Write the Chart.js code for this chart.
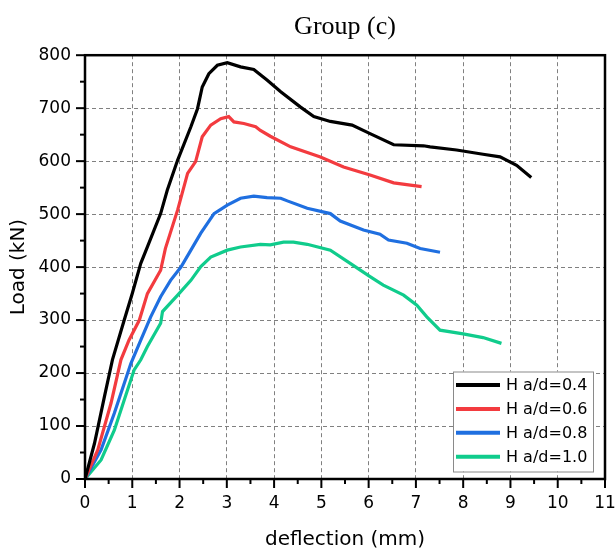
<!DOCTYPE html>
<html>
<head>
<meta charset="utf-8">
<script src="https://cdn.jsdelivr.net/npm/chart.js@4.4.1/dist/chart.umd.min.js"></script>
<style>
  html, body { margin: 0; padding: 0; background: #fff; }
</style>
</head>
<body>
<canvas id="grafico" width="616" height="554"></canvas>
<script>
// valores (deflexao em mm, carga em kN)
const rotulos = ["H a/d=0.4", "H a/d=0.6", "H a/d=0.8", "H a/d=1.0"];
const cores = ["#000000", "#F33B3F", "#1F6FE0", "#10CC8C"];

const deflexao04 = [0, 0.2, 0.41, 0.58, 0.83, 1.0, 1.18, 1.32, 1.6, 1.74, 1.96, 2.24, 2.38, 2.48, 2.62, 2.8, 3.01, 3.29, 3.57, 3.85, 4.14, 4.56, 4.84, 5.19, 5.65, 6.03, 6.53, 7.16, 7.3, 7.86, 8.42, 8.78, 9.13, 9.44];
const carga04 = [0, 67, 155, 225, 300, 350, 407, 438, 501, 545, 602, 665, 699, 740, 765, 781, 786, 778, 773, 753, 731, 702, 684, 675, 668, 652, 631, 629, 627, 621, 613, 608, 592, 569];

const deflexao06 = [0, 0.27, 0.55, 0.76, 0.93, 1.15, 1.32, 1.6, 1.7, 1.96, 2.17, 2.34, 2.48, 2.66, 2.87, 3.04, 3.15, 3.36, 3.61, 3.71, 3.92, 4.35, 4.98, 5.47, 6.03, 6.53, 7.12];
const carga06 = [0, 55, 143, 225, 262, 300, 350, 394, 435, 508, 577, 599, 646, 668, 680, 684, 674, 671, 665, 658, 647, 627, 608, 589, 574, 559, 552];

const deflexao08 = [0, 0.34, 0.62, 0.97, 1.18, 1.39, 1.6, 1.81, 2.03, 2.24, 2.45, 2.73, 3.01, 3.29, 3.57, 3.85, 4.14, 4.28, 4.7, 5.19, 5.4, 5.89, 6.24, 6.42, 6.81, 7.09, 7.51];
const carga08 = [0, 55, 124, 218, 262, 306, 344, 375, 400, 432, 464, 501, 517, 530, 534, 531, 530, 525, 511, 501, 487, 470, 462, 451, 445, 435, 428];

const deflexao10 = [0, 0.34, 0.62, 0.83, 1.04, 1.18, 1.32, 1.6, 1.64, 1.96, 2.24, 2.45, 2.66, 3.01, 3.29, 3.71, 3.92, 4.2, 4.41, 4.7, 5.19, 5.61, 6.03, 6.31, 6.74, 7.02, 7.23, 7.51, 8.0, 8.42, 8.81];
const carga10 = [0, 36, 92, 149, 206, 225, 250, 294, 316, 347, 375, 401, 419, 432, 438, 443, 442, 447, 447, 443, 432, 407, 382, 366, 347, 328, 306, 281, 274, 267, 256];

const deflexoes = [deflexao04, deflexao06, deflexao08, deflexao10];
const cargas = [carga04, carga06, carga08, carga10];

function montarPontos(xs, ys) {
  return xs.map((x, i) => ({ x: x, y: ys[i] }));
}

// moldura preta + ticks maiores e menores para fora
const molduraEixos = {
  id: "molduraEixos",
  afterDraw(chart) {
    const { ctx, chartArea: a, scales: { x, y } } = chart;
    ctx.save();
    ctx.strokeStyle = "#000";
    ctx.lineWidth = 2;
    for (let v = 0; v <= 11; v += 0.5) {
      const px = x.getPixelForValue(v);
      const len = Number.isInteger(v) ? 9 : 5;
      ctx.beginPath();
      ctx.moveTo(px, a.bottom);
      ctx.lineTo(px, a.bottom + len);
      ctx.stroke();
    }
    for (let v = 0; v <= 800; v += 50) {
      const py = y.getPixelForValue(v);
      const len = v % 100 == 0 ? 9 : 5;
      ctx.beginPath();
      ctx.moveTo(a.left, py);
      ctx.lineTo(a.left - len, py);
      ctx.stroke();
    }
    ctx.lineWidth = 2.5;
    ctx.strokeRect(a.left, a.top, a.right - a.left, a.bottom - a.top);
    ctx.restore();
  }
};

// legenda dentro da area do grafico, canto inferior direito
const legendaInterna = {
  id: "legendaInterna",
  afterDraw(chart) {
    const { ctx, chartArea: a } = chart;
    const esq = a.right - 152;
    const topo = a.bottom - 107.5;
    ctx.save();
    ctx.fillStyle = "#fff";
    ctx.fillRect(esq, topo, 140, 100);
    ctx.strokeStyle = "#8a8a8a";
    ctx.lineWidth = 1;
    ctx.strokeRect(esq + 0.5, topo + 0.5, 140, 100);
    ctx.font = "16px 'DejaVu Sans'";
    ctx.textBaseline = "middle";
    chart.data.datasets.forEach((ds, i) => {
      const yy = topo + 13.5 + i * 23.9;
      ctx.strokeStyle = ds.borderColor;
      ctx.lineWidth = 4;
      ctx.beginPath();
      ctx.moveTo(esq + 3, yy);
      ctx.lineTo(esq + 47, yy);
      ctx.stroke();
      ctx.fillStyle = "#000";
      ctx.fillText(ds.label, esq + 53, yy + 1);
    });
    ctx.restore();
  }
};

const ctx = document.getElementById("grafico").getContext("2d");
const myChart = new Chart(ctx, {
  type: "line",
  data: {
    datasets: rotulos.map((r, i) => ({
      label: r,
      data: montarPontos(deflexoes[i], cargas[i]),
      borderColor: cores[i],
      backgroundColor: cores[i],
      borderWidth: 3.2,
      pointRadius: 0,
      tension: 0,
      fill: false,
    })),
  },
  options: {
    responsive: false,
    animation: false,
    layout: { padding: { left: 0, right: 11, top: 0, bottom: 0 } },
    plugins: {
      legend: { display: false },
      tooltip: { enabled: false },
      title: {
        display: true,
        text: "Group (c)",
        fullSize: false,
        color: "#000",
        font: { family: "'Liberation Serif'", size: 26, weight: "normal" },
        padding: { top: 12, bottom: 12 },
      },
    },
    scales: {
      x: {
        type: "linear",
        min: 0,
        max: 11,
        ticks: {
          stepSize: 1,
          color: "#000",
          padding: 14,
          maxRotation: 0,
          autoSkip: false,
          font: { family: "'DejaVu Sans'", size: 17 },
        },
        grid: { color: "#808080", lineWidth: 1, drawTicks: false },
        border: { display: false, dash: [4, 3] },
        title: {
          display: true,
          text: "deflection (mm)",
          color: "#000",
          font: { family: "'DejaVu Sans'", size: 20 },
          padding: { top: 0, bottom: 2 },
        },
        afterFit(scale) {
          scale.height = 75;
          scale.paddingLeft = 0;
          scale.paddingRight = 0;
        },
      },
      y: {
        min: 0,
        max: 800,
        ticks: {
          stepSize: 100,
          color: "#000",
          padding: 14,
          font: { family: "'DejaVu Sans'", size: 17 },
        },
        grid: { color: "#808080", lineWidth: 1, drawTicks: false },
        border: { display: false, dash: [4, 3] },
        title: {
          display: true,
          text: "Load (kN)",
          color: "#000",
          font: { family: "'DejaVu Sans'", size: 20 },
          padding: { top: 7, bottom: 0 },
        },
        afterFit(scale) {
          scale.width = 85;
          scale.paddingTop = 0;
          scale.paddingBottom = 0;
        },
      },
    },
  },
  plugins: [molduraEixos, legendaInterna],
});
</script>
</body>
</html>
